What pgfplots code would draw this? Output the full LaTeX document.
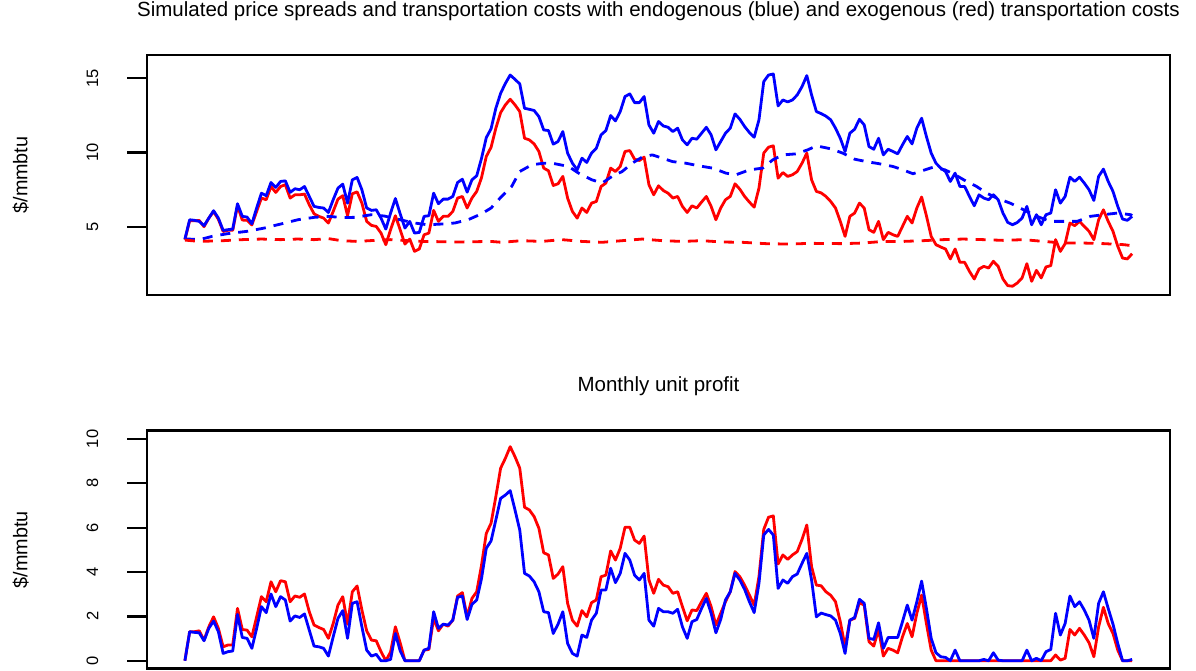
\documentclass[border=0pt]{standalone}
\usepackage{fontspec}
\setmainfont{Liberation Sans}
\usepackage{pgfplots}
\pgfplotsset{compat=1.18}
\usepackage{pgfplotstable}

\pgfplotstableread{
i b r
0 4.17 4.12
1 5.47 5.40
2 5.43 5.40
3 5.36 5.42
4 5.07 5.00
5 5.58 5.58
6 6.08 6.02
7 5.58 5.50
8 4.75 4.68
9 4.80 4.76
10 4.84 4.76
11 6.55 6.42
12 5.70 5.45
13 5.65 5.43
14 5.20 5.12
15 6.26 6.03
16 7.26 6.93
17 7.09 6.82
18 7.98 7.71
19 7.65 7.31
20 8.05 7.71
21 8.09 7.83
22 7.31 6.93
23 7.56 7.15
24 7.49 7.15
25 7.71 7.20
26 7.04 6.48
27 6.37 5.87
28 6.30 5.70
29 6.26 5.58
30 5.96 5.25
31 6.82 6.03
32 7.60 6.86
33 7.87 7.09
34 6.59 5.74
35 8.16 7.22
36 8.32 7.35
37 7.49 6.59
38 6.26 5.36
39 6.10 5.09
40 6.14 5.02
41 5.58 4.57
42 4.84 3.79
43 5.92 4.80
44 6.90 5.74
45 5.87 4.80
46 4.91 3.83
47 5.36 4.17
48 4.57 3.34
49 4.62 3.50
50 5.70 4.46
51 5.74 4.57
52 7.26 6.10
53 6.55 5.36
54 6.86 5.70
55 6.86 5.70
56 7.04 6.03
57 7.98 6.93
58 8.20 7.04
59 7.33 6.26
60 8.16 6.93
61 8.43 7.38
62 9.60 8.30
63 11.00 9.73
64 11.60 10.35
65 12.98 11.64
66 13.99 12.69
67 14.66 13.21
68 15.22 13.59
69 14.93 13.21
70 14.62 12.76
71 12.98 10.96
72 12.91 10.85
73 12.83 10.58
74 12.42 10.07
75 11.52 8.95
76 11.48 8.77
77 10.56 7.78
78 10.74 7.89
79 11.41 8.39
80 9.96 6.93
81 9.28 6.03
82 8.83 5.58
83 9.62 6.26
84 9.33 5.96
85 9.96 6.59
86 10.29 6.70
87 11.19 7.71
88 11.48 7.94
89 12.49 8.95
90 12.13 8.72
91 12.76 9.06
92 13.77 10.07
93 13.95 10.13
94 13.36 9.55
95 13.36 9.46
96 13.77 9.69
97 11.86 7.83
98 11.30 7.15
99 12.09 7.76
100 11.79 7.44
101 11.70 7.26
102 11.41 6.93
103 11.64 7.04
104 10.85 6.37
105 10.52 5.96
106 10.96 6.41
107 10.90 6.26
108 11.30 6.66
109 11.70 7.04
110 11.19 6.37
111 10.18 5.47
112 10.74 6.26
113 11.30 6.82
114 11.64 7.04
115 12.60 7.89
116 12.24 7.53
117 11.75 7.04
118 11.35 6.66
119 11.03 6.32
120 12.20 7.60
121 14.78 9.96
122 15.22 10.36
123 15.29 10.45
124 13.14 8.27
125 13.54 8.65
126 13.41 8.39
127 13.54 8.50
128 13.88 8.72
129 14.44 9.28
130 15.18 9.96
131 13.88 8.16
132 12.76 7.38
133 12.62 7.28
134 12.45 7.04
135 12.20 6.70
136 11.64 6.26
137 10.96 5.36
138 10.07 4.35
139 11.30 5.70
140 11.57 5.92
141 12.24 6.59
142 11.86 6.26
143 10.40 4.80
144 10.22 4.62
145 10.96 5.36
146 9.84 4.13
147 10.22 4.62
148 10.07 4.46
149 9.91 4.35
150 10.52 5.02
151 11.08 5.70
152 10.58 5.25
153 11.64 6.26
154 12.31 7.00
155 11.08 5.74
156 9.96 4.35
157 9.28 3.79
158 8.95 3.63
159 8.72 3.50
160 8.05 2.83
161 8.61 3.50
162 7.71 2.60
163 7.71 2.60
164 7.04 1.99
165 6.41 1.48
166 7.15 2.15
167 6.93 2.33
168 6.82 2.22
169 7.15 2.67
170 6.82 2.33
171 5.92 1.48
172 5.29 1.03
173 5.13 0.99
174 5.29 1.21
175 5.58 1.55
176 6.37 2.51
177 5.13 1.32
178 5.81 2.06
179 5.13 1.55
180 5.81 2.29
181 5.92 2.38
182 7.49 4.13
183 6.59 3.34
184 7.04 3.86
185 8.34 5.25
186 8.05 5.07
187 8.34 5.36
188 7.94 5.02
189 7.49 4.69
190 6.77 4.13
191 8.39 5.47
192 8.88 6.14
193 8.05 5.36
194 7.38 4.69
195 6.37 3.68
196 5.52 2.89
197 5.43 2.83
198 5.70 3.18
}\topsolid

\pgfplotstableread{
i c
0 4.17
3.3 4.15
5.7 4.35
8.9 4.53
13 4.69
16.6 4.91
20 5.18
23.6 5.47
27 5.63
30 5.70
32.7 5.62
35.5 5.63
39 5.81
41.7 5.72
45 5.47
48 5.25
50.8 5.13
53.6 5.18
56.4 5.25
59.2 5.47
62 5.87
64 6.26
66.2 7.04
68.3 7.71
70 8.72
72.5 9.17
75 9.28
77.4 9.24
80.2 9.06
82.3 8.61
85.1 8.16
87.2 7.94
89.3 8.39
91.4 8.72
93.5 9.28
95.6 9.69
97.7 9.84
99.8 9.62
101.9 9.39
104.7 9.28
107.5 9.10
110.3 8.95
113.1 8.61
115.2 8.50
118 8.83
120.8 8.95
122.9 9.51
125 9.84
127.8 9.91
130.2 10.18
132 10.45
135 10.25
137.5 9.96
140 9.55
142.4 9.39
145.2 9.24
148 9.06
150.1 8.83
152.2 8.57
154.3 8.79
156.4 9.01
158.9 8.83
161 8.50
163.4 8.05
165.5 7.71
167.6 7.26
169.7 6.93
172.5 6.59
175.3 6.14
178.1 5.70
180.9 5.36
183.7 5.36
186.5 5.36
189.3 5.70
192 5.81
194.9 5.92
197.7 5.81
198 5.75
}\bluecost

\pgfplotstableread{
i c
0 4.10
3 4.01
8 4.06
12 4.13
16 4.17
20 4.13
23.6 4.17
27 4.13
30 4.20
32.7 4.06
36 4.01
39.7 4.08
43 4.13
46.6 4.06
50 4.01
53.6 3.99
57 3.97
60.6 3.99
64 4.01
66.2 3.95
70.4 4.06
74.6 4.01
78.8 4.13
83 4.01
87.2 3.95
91.4 4.06
95.6 4.17
99.8 4.06
104 4.01
108 4.06
112.4 3.97
116.5 3.95
121.4 3.86
126.4 3.83
130.6 3.88
134 3.87
137.5 3.86
141.7 3.90
145.9 4.01
150.1 4.01
154.3 4.06
158.5 4.13
162.7 4.17
166.9 4.13
171.1 4.08
175.3 4.13
179.5 4.01
183.7 3.90
187.9 3.90
192.1 3.86
196.3 3.79
198 3.72
}\redcost

\pgfplotstableread{
i b r
0 0 0
1 1.31 1.31
2 1.28 1.31
3 1.26 1.35
4 0.90 0.93
5 1.46 1.53
6 1.79 1.98
7 1.31 1.46
8 0.33 0.63
9 0.41 0.71
10 0.44 0.71
11 2.09 2.36
12 1.05 1.41
13 1.01 1.38
14 0.56 1.08
15 1.46 1.98
16 2.44 2.89
17 2.17 2.66
18 3.01 3.56
19 2.44 3.11
20 2.89 3.61
21 2.74 3.56
22 1.79 2.66
23 2.02 2.92
24 1.95 2.86
25 2.11 3.01
26 1.38 2.21
27 0.66 1.61
28 0.63 1.50
29 0.56 1.41
30 0.21 1.01
31 1.08 1.68
32 1.91 2.51
33 2.26 2.89
34 1.01 1.65
35 2.59 3.11
36 2.66 3.37
37 1.53 2.29
38 0.48 1.35
39 0.21 0.93
40 0.29 0.90
41 0 0.41
42 0 0
43 0.06 0.40
44 1.23 1.53
45 0.45 0.81
46 0 0
47 0 0
48 0 0
49 0 0
50 0.48 0.48
51 0.56 0.51
52 2.21 1.91
53 1.46 1.35
54 1.65 1.65
55 1.61 1.56
56 1.83 1.83
57 2.86 2.92
58 2.92 3.07
59 1.86 1.98
60 2.54 2.81
61 2.74 3.11
62 3.70 4.30
63 5.07 5.74
64 5.40 6.20
65 6.35 7.40
66 7.32 8.68
67 7.47 9.13
68 7.67 9.65
69 6.80 9.20
70 5.89 8.68
71 3.94 6.92
72 3.82 6.80
73 3.56 6.50
74 3.11 5.97
75 2.21 4.87
76 2.17 4.77
77 1.23 3.71
78 1.65 3.91
79 2.21 4.24
80 0.78 2.59
81 0.33 1.83
82 0.21 1.56
83 1.16 2.26
84 1.05 1.98
85 1.83 2.62
86 2.14 2.74
87 3.19 3.79
88 3.19 3.86
89 4.17 4.95
90 3.52 4.54
91 3.94 5.07
92 4.84 6.02
93 4.54 6.02
94 3.86 5.44
95 3.64 5.29
96 3.94 5.62
97 1.83 3.64
98 1.56 3.04
99 2.36 3.67
100 2.21 3.41
101 2.21 3.34
102 2.14 3.04
103 2.32 3.11
104 1.53 2.44
105 1.01 1.80
106 1.76 2.29
107 1.86 2.26
108 2.36 2.66
109 2.81 3.04
110 2.14 2.44
111 1.26 1.61
112 1.86 2.14
113 2.74 2.66
114 3.11 3.11
115 3.94 4.02
116 3.64 3.79
117 3.22 3.41
118 2.66 2.96
119 2.17 2.51
120 3.49 3.79
121 5.67 5.92
122 5.92 6.47
123 5.67 6.53
124 3.26 4.36
125 3.64 4.77
126 3.49 4.57
127 3.79 4.77
128 3.91 4.92
129 4.39 5.47
130 4.84 6.12
131 3.64 4.24
132 1.98 3.41
133 2.15 3.38
134 2.08 3.11
135 2.02 2.95
136 1.83 2.66
137 1.23 1.76
138 0.33 0.63
139 1.83 1.83
140 1.95 1.91
141 2.77 2.62
142 2.59 2.51
143 1.01 0.86
144 0.96 0.66
145 1.71 1.41
146 0.56 0.21
147 1.05 0.56
148 1.05 0.48
149 1.05 0.36
150 1.76 1.08
151 2.51 1.68
152 1.83 1.08
153 2.66 2.14
154 3.59 2.96
155 2.36 1.68
156 1.01 0.48
157 0.36 0
158 0.18 0
159 0.15 0
160 0 0
161 0.48 0
162 0 0
163 0 0
164 0 0
165 0 0
166 0 0
167 0.06 0
168 0 0
169 0.36 0
170 0.03 0
171 0 0
172 0 0
173 0 0
174 0 0
175 0 0
176 0.48 0
177 0 0
178 0.11 0
179 0 0
180 0.41 0
181 0.51 0
182 2.14 0.26
183 1.16 0.03
184 1.68 0.11
185 2.92 1.41
186 2.44 1.16
187 2.66 1.46
188 2.29 1.16
189 1.83 0.81
190 1.01 0.18
191 2.59 1.53
192 3.11 2.41
193 2.36 1.68
194 1.65 1.23
195 0.78 0.48
196 0 0
197 0 0
198 0.06 0
}\profit

\pgfplotsset{
  rstyle/.style={
    scale only axis, width=1023pt,
    xmin=-7.92, xmax=205.92,
    xtick=\empty, ytick pos=left, tick align=outside,
    major tick length=20pt,
    axis line style={line width=2.6pt, line join=miter},
    major tick style={line width=2.3pt, black},
    /pgf/number format/assume math mode=true,
    yticklabel style={rotate=90, anchor=center, yshift=34.5pt,
      font=\fontsize{16.5}{16.5}\selectfont},
    ylabel={\$/mmbtu},
    ylabel style={at={(axis description cs:-0.1235,0.5)}, anchor=center,
      font=\fontsize{19.8}{20}\selectfont},
    title style={anchor=base, font=\fontsize{20.5}{21}\selectfont},
    clip=true,
  },
  bl/.style={draw={rgb,255:red,0;green,0;blue,255}, line width=2.8pt, line join=round, no markers},
  rd/.style={draw={rgb,255:red,255;green,0;blue,0}, line width=2.8pt, line join=round, no markers},
}

\begin{document}
\begin{tikzpicture}
\useasboundingbox (0pt,0pt) rectangle (1196pt,670pt);
\begin{axis}[rstyle,
  at={(147pt,375pt)}, anchor=south west, height=240pt,
  ymin=0.40, ymax=16.57, ytick={5,10,15},
  title={Simulated price spreads and transportation costs with endogenous (blue) and exogenous (red) transportation costs},
  title style={yshift=32.3pt},
]
\addplot[rd] table[x=i,y=r] {\topsolid};
\addplot[bl] table[x=i,y=b] {\topsolid};
\addplot[bl, dash pattern=on 10pt off 8pt] table[x=i,y=c] {\bluecost};
\addplot[rd, dash pattern=on 10pt off 8pt] table[x=i,y=c] {\redcost};
\end{axis}
\begin{axis}[rstyle,
  at={(147pt,1.7pt)}, anchor=south west, height=237.6pt,
  ymin=-0.34, ymax=10.37, ytick={0,2,4,6,8,10},
  title={Monthly unit profit},
  title style={yshift=33pt},
]
\addplot[rd] table[x=i,y=r] {\profit};
\addplot[bl] table[x=i,y=b] {\profit};
\end{axis}
\end{tikzpicture}
\end{document}
